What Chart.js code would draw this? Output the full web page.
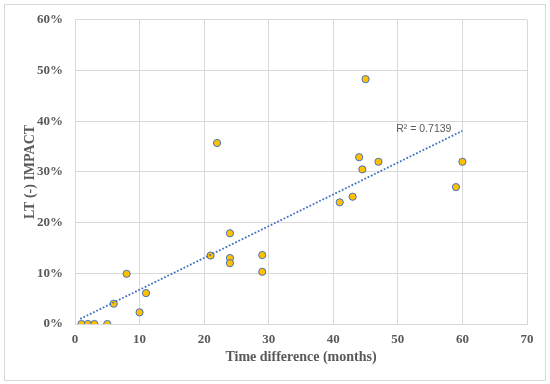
<!DOCTYPE html>
<html>
<head>
  <title>LT impact vs time difference</title>
  <script src="https://cdn.jsdelivr.net/npm/chart.js"></script>
  <style>
    html, body { margin: 0; padding: 0; background: #fff; }
    #wrap { width: 550px; height: 384px; }
  </style>
</head>
<body>
  <div id="wrap"><canvas id="impactChart" width="550" height="384"></canvas></div>

  <script>
    // data (months, % impact)
    const months = [1, 2, 3, 5, 6, 8, 10, 11, 21, 22, 24, 24, 24, 29, 29, 41, 43, 44, 44.5, 45, 47, 59, 60];
    const impact = [0, 0, 0, 0, 4.0, 9.9, 2.3, 6.1, 13.5, 35.7, 17.9, 13.0, 12.0, 13.6, 10.3, 24.0, 25.1, 32.9, 30.5, 48.3, 32.0, 27.0, 32.0];

    // linear trendline end points as drawn
    const trendMonths = [0.8, 60];
    const trendImpact = [1.0, 38.1];
    const trendLabel = 'R\u00b2 = 0.7139';

    const xTicks = [0, 10, 20, 30, 40, 50, 60, 70];
    const yTicks = [0, 10, 20, 30, 40, 50, 60];

    const textColor = '#595959';
    const gridColor = '#d9d9d9';

    const points = months.map((m, i) => ({ x: m, y: impact[i] }));
    const trend = trendMonths.map((m, i) => ({ x: m, y: trendImpact[i] }));

    const frame = {
      id: 'frame',
      beforeDraw(chart) {
        const ctx = chart.ctx;
        ctx.save();
        ctx.fillStyle = '#fff';
        ctx.fillRect(0, 0, chart.width, chart.height);
        ctx.strokeStyle = gridColor;
        ctx.lineWidth = 1;
        ctx.strokeRect(4.5, 4.5, 541, 376);
        ctx.restore();
      },
      afterDatasetsDraw(chart) {
        // R² label sits just left of the trendline end
        const ctx = chart.ctx;
        const x = chart.scales.x.getPixelForValue(58.3);
        const y = chart.scales.y.getPixelForValue(38.4);
        ctx.save();
        ctx.font = '10.5px "Liberation Sans", Arial, sans-serif';
        ctx.fillStyle = textColor;
        ctx.textAlign = 'right';
        ctx.textBaseline = 'middle';
        ctx.fillText(trendLabel, x, y);
        ctx.restore();
      }
    };

    new Chart(document.getElementById('impactChart'), {
      type: 'scatter',
      data: {
        datasets: [
          {
            label: 'trend',
            type: 'line',
            data: trend,
            borderColor: '#4472C4',
            borderWidth: 1.8,
            borderDash: [1.8, 1.8],
            pointRadius: 0,
            fill: false,
            order: 0
          },
          {
            label: 'LT (-) IMPACT',
            data: points,
            backgroundColor: '#FFC000',
            borderColor: '#4472C4',
            borderWidth: 1,
            pointRadius: 3.6,
            order: 1
          }
        ]
      },
      options: {
        responsive: false,
        animation: false,
        layout: { padding: { top: 15, right: 23, left: 0, bottom: 0 } },
        plugins: {
          legend: { display: false },
          tooltip: { enabled: false }
        },
        scales: {
          x: {
            type: 'linear',
            min: 0,
            max: 70,
            afterFit: s => { s.height = 60; },
            afterBuildTicks: s => { s.ticks = xTicks.map(v => ({ value: v })); },
            grid: { color: gridColor, drawTicks: false },
            border: { color: gridColor },
            ticks: {
              padding: 8,
              color: textColor,
              font: { family: '"Liberation Serif", "Times New Roman", serif', size: 13, weight: 'bold' }
            },
            title: {
              display: true,
              text: 'Time difference (months)',
              color: textColor,
              padding: { top: 0, bottom: 18 },
              font: { family: '"Liberation Serif", "Times New Roman", serif', size: 14, weight: 'bold' }
            }
          },
          y: {
            min: 0,
            max: 60,
            afterFit: s => { s.width = 75; },
            afterBuildTicks: s => { s.ticks = yTicks.map(v => ({ value: v })); },
            grid: { color: gridColor, drawTicks: false },
            border: { color: gridColor },
            ticks: {
              padding: 12,
              color: textColor,
              callback: v => v + '%',
              font: { family: '"Liberation Serif", "Times New Roman", serif', size: 13, weight: 'bold' }
            },
            title: {
              display: true,
              text: 'LT (-) IMPACT',
              color: textColor,
              padding: { top: 22, bottom: 0 },
              font: { family: '"Liberation Serif", "Times New Roman", serif', size: 14, weight: 'bold' }
            }
          }
        }
      },
      plugins: [frame]
    });
  </script>
</body>
</html>
